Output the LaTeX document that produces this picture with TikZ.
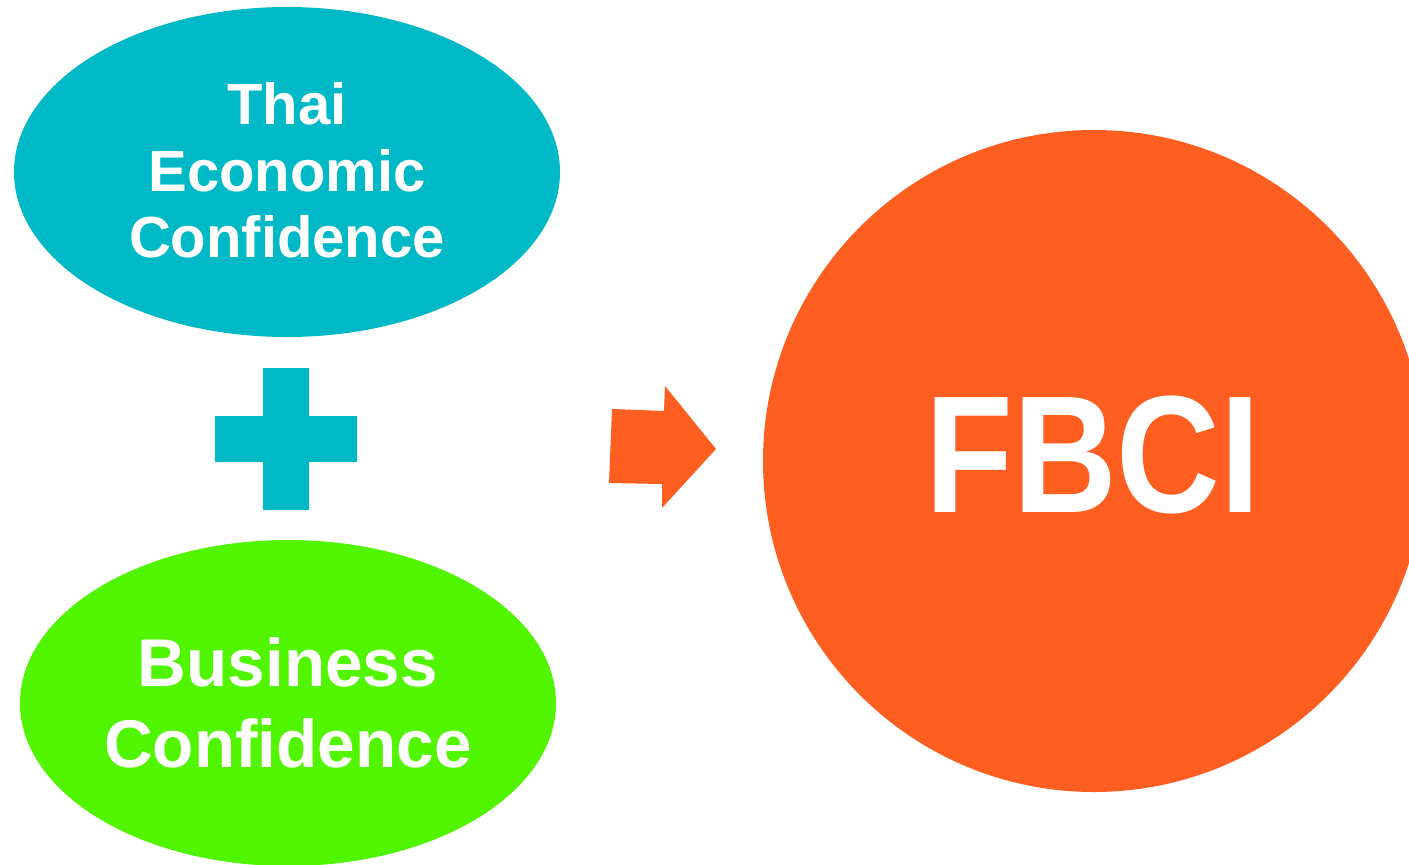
\documentclass[tikz,border=0pt]{standalone}
\usepackage{fontspec}
\setmainfont{Liberation Sans}
\usetikzlibrary{shapes.geometric}
\definecolor{tealc}{HTML}{00B9C6}
\definecolor{greenc}{HTML}{52F500}
\definecolor{orangec}{HTML}{FF5E21}
\tikzset{
  blob/.style={ellipse, inner sep=0pt, draw=none},
  lbl/.style={text=white, font=\bfseries, align=center, inner sep=0pt}
}
\begin{document}
\begin{tikzpicture}[x=1pt,y=-1pt]
\useasboundingbox (0,0) rectangle (1409,865);
\begin{scope}
\clip (0,0) rectangle (1409,865);
% ellipses
\node[blob, fill=tealc, minimum width=546pt, minimum height=330pt] (tec) at (287,172) {};
\node[blob, fill=greenc, minimum width=536pt, minimum height=326pt] (bc) at (288,703) {};
% circle
\node[circle, fill=orangec, inner sep=0pt, minimum size=662pt] (fbci) at (1094,461) {};
\end{scope}
% plus sign
\fill[tealc] (263,368) rectangle (309,510);
\fill[tealc] (215,416) rectangle (357,462);
% arrow
\fill[orangec] (612,409) -- (664,411) -- (665,386) -- (716,449) -- (662,508) -- (662,484) -- (609,483) -- cycle;
% labels
\node[lbl, font=\bfseries\fontsize{58}{66.5}\selectfont] (tect) at (287,170.5) {Thai\\Economic\\Confidence};
\node[lbl, font=\bfseries\fontsize{67.5}{81}\selectfont] (bct) at (288,703) {Business\\Confidence};
\node[lbl, anchor=base, font=\bfseries\fontsize{167}{167}\selectfont, xscale=0.86] (fbcit) at (1093,512) {FBCI};
\end{tikzpicture}
\end{document}
